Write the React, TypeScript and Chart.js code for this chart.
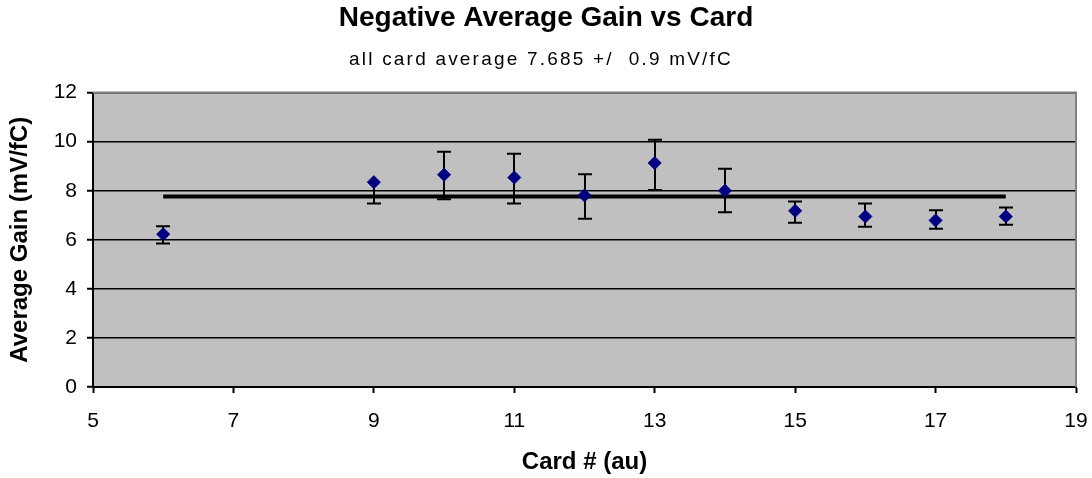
import React, { useEffect, useRef } from "react";
import { Chart, registerables } from "chart.js";

Chart.register(...registerables);

const titleText = "Negative Average Gain vs Card";
const subtitleText = "all card average 7.685 +/  0.9 mV/fC";
const xTitle = "Card # (au)";
const yTitle = "Average Gain (mV/fC)";

const cards = [6, 9, 10, 11, 12, 13, 14, 15, 16, 17, 18];
const gains = [6.23, 8.35, 8.65, 8.54, 7.81, 9.13, 8.0, 7.18, 6.95, 6.79, 6.95];
const errPlus = [0.32, 0, 0.94, 0.97, 0.86, 0.95, 0.9, 0.38, 0.53, 0.41, 0.37];
const errMinus = [0.38, 0.87, 1.0, 1.06, 0.95, 1.1, 0.88, 0.49, 0.42, 0.34, 0.34];
const avgX = [6, 18];
const avgY = [7.77, 7.77];

const xMin = 5;
const xMax = 19;
const xStep = 2;
const yMin = 0;
const yMax = 12;
const yStep = 2;

const FONT = "'Liberation Sans', Arial, sans-serif";

const bgPlugin = {
  id: "plotBg",
  beforeDraw(chart: any) {
    const { ctx, chartArea } = chart;
    ctx.save();
    ctx.fillStyle = "#ffffff";
    ctx.fillRect(0, 0, chart.width, chart.height);
    ctx.fillStyle = "#c0c0c0";
    ctx.fillRect(chartArea.left, chartArea.top, chartArea.right - chartArea.left, chartArea.bottom - chartArea.top);
    ctx.restore();
  },
  beforeDatasetsDraw(chart: any) {
    const { ctx, chartArea } = chart;
    ctx.save();
    ctx.strokeStyle = "#808080";
    ctx.lineWidth = 2;
    ctx.beginPath();
    ctx.moveTo(chartArea.left, chartArea.top);
    ctx.lineTo(chartArea.right, chartArea.top);
    ctx.lineTo(chartArea.right, chartArea.bottom);
    ctx.stroke();
    // error bars
    const xs = chart.scales.x;
    const ys = chart.scales.y;
    ctx.strokeStyle = "#000000";
    ctx.lineWidth = 2;
    const cap = 7;
    cards.forEach((c, i) => {
      const px = Math.round(xs.getPixelForValue(c));
      const pyHi = ys.getPixelForValue(gains[i] + errPlus[i]);
      const pyLo = ys.getPixelForValue(gains[i] - errMinus[i]);
      ctx.beginPath();
      ctx.moveTo(px, pyHi);
      ctx.lineTo(px, pyLo);
      if (errPlus[i] > 0) {
        ctx.moveTo(px - cap, pyHi);
        ctx.lineTo(px + cap, pyHi);
      }
      if (errMinus[i] > 0) {
        ctx.moveTo(px - cap, pyLo);
        ctx.lineTo(px + cap, pyLo);
      }
      ctx.stroke();
    });
    ctx.restore();
  },
  afterDraw(chart: any) {
    const { ctx } = chart;
    ctx.save();
    ctx.fillStyle = "#000000";
    ctx.font = `normal 19px ${FONT}`;
    ctx.textAlign = "center";
    ctx.textBaseline = "middle";
    try {
      (ctx as any).letterSpacing = "2.2px";
    } catch (e) {
      /* ignore */
    }
    ctx.fillText(subtitleText, 541, 60);
    ctx.restore();
  },
};

export default function App() {
  const ref = useRef<HTMLCanvasElement | null>(null);

  useEffect(() => {
    if (!ref.current) return;
    const chart = new Chart(ref.current, {
      type: "scatter",
      data: {
        datasets: [
          {
            type: "line",
            label: "average",
            data: avgX.map((x, i) => ({ x, y: avgY[i] })),
            borderColor: "#000000",
            borderWidth: 4,
            pointRadius: 0,
            fill: false,
            order: 2,
          } as any,
          {
            label: "gain",
            data: cards.map((x, i) => ({ x, y: gains[i] })),
            pointStyle: "rectRot",
            pointRadius: 6.5,
            backgroundColor: "#000080",
            borderColor: "#000080",
            borderWidth: 1,
            order: 1,
          },
        ],
      },
      options: {
        responsive: false,
        animation: false,
        layout: { padding: 0 },
        plugins: {
          legend: { display: false },
          tooltip: { enabled: false },
          title: {
            display: true,
            text: titleText,
            color: "#000000",
            font: { family: FONT, size: 28, weight: "bold" },
            padding: { top: 1, bottom: 58 },
          },
          subtitle: { display: false },
        },
        scales: {
          x: {
            type: "linear",
            min: xMin,
            max: xMax,
            afterFit(scale: any) {
              scale.height = 91;
              scale.paddingLeft = 0;
              scale.paddingRight = 16;
            },
            ticks: {
              stepSize: xStep,
              color: "#000000",
              font: { family: FONT, size: 21 },
              padding: 16,
              maxRotation: 0,
            },
            grid: {
              drawOnChartArea: false,
              drawTicks: true,
              tickLength: 6,
              tickWidth: 2,
              tickColor: "#000000",
            },
            border: { display: true, color: "#000000", width: 2 },
            title: {
              display: true,
              text: xTitle,
              color: "#000000",
              font: { family: FONT, size: 24, weight: "bold" },
              padding: { top: 0, bottom: 1 },
            },
          },
          y: {
            type: "linear",
            min: yMin,
            max: yMax,
            afterFit(scale: any) {
              scale.width = 93;
              scale.paddingTop = 0;
              scale.paddingBottom = 0;
            },
            ticks: {
              stepSize: yStep,
              color: "#000000",
              font: { family: FONT, size: 21 },
              padding: 10,
            },
            grid: {
              drawOnChartArea: true,
              color: "#000000",
              lineWidth: 1.5,
              drawTicks: true,
              tickLength: 6,
              tickWidth: 2,
              tickColor: "#000000",
            },
            border: { display: true, color: "#000000", width: 2 },
            title: {
              display: true,
              text: yTitle,
              color: "#000000",
              font: { family: FONT, size: 24, weight: "bold" },
              padding: { top: 6, bottom: 0 },
            },
          },
        },
      },
      plugins: [bgPlugin],
    });
    return () => chart.destroy();
  }, []);

  return (
    <div style={{ position: "absolute", left: 0, top: 0, width: 1092, height: 478, background: "#fff" }}>
      <canvas ref={ref} width={1092} height={478} style={{ display: "block" }} />
    </div>
  );
}
